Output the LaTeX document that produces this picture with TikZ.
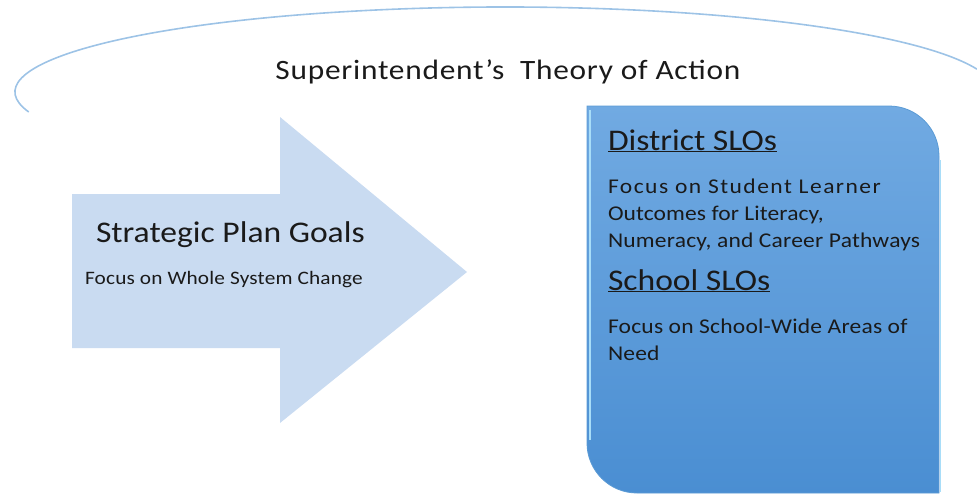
\documentclass[tikz,border=0pt]{standalone}
\usepackage{fontspec}
\setmainfont[FakeStretch=1.12]{Carlito}
\definecolor{ovalline}{HTML}{9DC3E6}
\definecolor{arrowfill}{HTML}{C9DBF1}
\definecolor{boxtop}{HTML}{71AAE2}
\definecolor{boxbot}{HTML}{4A8ED2}
\definecolor{boxedge}{HTML}{5B9BD5}
\definecolor{boxlight}{HTML}{A8DDF8}
\definecolor{txt}{HTML}{1A1A1A}
\newcommand{\txtsize}[3]{\fontsize{#1}{#2}\selectfont\addfontfeatures{LetterSpace=#3}}
\tikzset{
  oval/.style={draw=ovalline, line width=1.6pt},
  bigarrow/.style={fill=arrowfill, draw=none},
  slobox/.style={top color=boxtop, bottom color=boxbot, draw=boxedge, line width=0.8pt},
  txtnode/.style={inner sep=0pt, outer sep=0pt, text=txt, anchor=base west},
}
\begin{document}
\begin{tikzpicture}[x=1pt,y=-1pt]
\useasboundingbox (0,0) rectangle (977,495);
% oval arc
\draw[oval] (505,92) ++(166.4:490 and 85) arc[start angle=166.4, end angle=344.4, x radius=490, y radius=85];
\node[inner sep=0pt, text=txt, anchor=base] (title) at (508,80)
  {\txtsize{28}{32}{2.7}Superintendent’s\ \ Theory of Action};
% arrow
\path[bigarrow] (72,194) -- (280,194) -- (280,117) -- (467,272) -- (280,423) -- (280,348) -- (72,348) -- cycle;
\node[txtnode] (spg) at (96,242) {\txtsize{30}{34}{0}Strategic Plan Goals};
\node[txtnode] (wsc) at (85,284) {\txtsize{19}{22}{1}Focus on Whole System Change};
% SLO box
\path[slobox] (587,106) -- (889,106) .. controls (916.6,106) and (939,128.4) .. (939,156)
  -- (939,493) -- (637,493) .. controls (609.4,493) and (587,470.6) .. (587,443) -- cycle;
\draw[boxlight, line width=1.4pt] (940.5,160) -- (940.5,492);
\draw[boxlight, line width=1.2pt] (590,110) -- (590,440);
\node[txtnode] (dslo) at (608,150) {\txtsize{30}{34}{0}\underline{District SLOs}};
\node[txtnode] (d1) at (608,193) {\txtsize{21}{24}{7}Focus on Student Learner};
\node[txtnode] (d2) at (608,220) {\txtsize{21}{24}{0.5}Outcomes for Literacy,};
\node[txtnode] (d3) at (608,247) {\txtsize{21}{24}{1}Numeracy, and Career Pathways};
\node[txtnode] (sslo) at (608,290) {\txtsize{30}{34}{0}\underline{School SLOs}};
\node[txtnode] (s1) at (608,333) {\txtsize{21}{24}{1}Focus on School-Wide Areas of};
\node[txtnode] (s2) at (608,360) {\txtsize{21}{24}{1}Need};
\end{tikzpicture}
\end{document}
